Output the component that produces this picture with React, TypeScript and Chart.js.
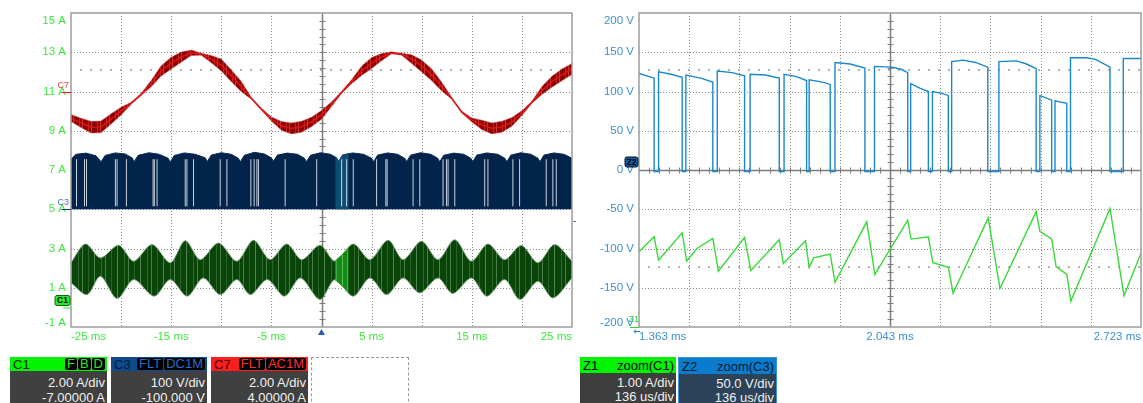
import React, { useEffect, useRef } from "react";
import { Chart, registerables } from "chart.js";

Chart.register(...registerables);

const FONT = '"Liberation Sans", Arial, sans-serif';

// ---------- Main acquisition (left view): 5 ms/div ----------
const mainTimeTicks = [-25, -15, -5, 5, 15, 25];
const mainTimeLabels = ["-25 ms", "-15 ms", "-5 ms", "5 ms", "15 ms", "25 ms"];
const mainAmpTicks = [15, 13, 11, 9, 7, 5, 3, 1, -1];
const mainAmpLabels = ["15 A", "13 A", "11 A", "9 A", "7 A", "5 A", "3 A", "1 A", "-1 A"];

// C7: AC line current, sampled every 1 ms (mean value and ripple half-width, A)
const c7Times = [
  -25, -24, -23, -22, -21, -20, -19, -18, -17, -16, -15, -14, -13, -12, -11, -10, -9, -8, -7, -6,
  -5, -4, -3, -2, -1, 0, 1, 2, 3, 4, 5, 6, 7, 8, 9, 10, 11, 12, 13, 14, 15, 16, 17, 18, 19, 20,
  21, 22, 23, 24, 25,
];
const c7Mean = [
  9.65, 9.4, 9.18, 9.2, 9.6, 10.0, 10.4, 10.85, 11.4, 12.05, 12.45, 12.75, 12.97, 12.9, 12.65, 12.35,
  11.8, 11.25, 10.65, 10.1, 9.6, 9.25, 9.12, 9.2, 9.45, 9.81, 10.35, 10.95, 11.5, 12.05, 12.45, 12.75,
  12.97, 12.9, 12.65, 12.3, 11.85, 11.25, 10.65, 9.95, 9.55, 9.3, 9.12, 9.2, 9.45, 9.9, 10.45, 11.05,
  11.5, 11.85, 12.15,
];
const c7Ripple = [
  0.18, 0.24, 0.3, 0.3, 0.26, 0.2, 0.05, 0.05, 0.16, 0.26, 0.3, 0.26, 0.14, 0.05, 0.18, 0.3, 0.3,
  0.26, 0.05, 0.05, 0.1, 0.22, 0.28, 0.28, 0.24, 0.22, 0.12, 0.05, 0.1, 0.24, 0.28, 0.18, 0.05,
  0.05, 0.22, 0.3, 0.3, 0.22, 0.05, 0.05, 0.1, 0.24, 0.28, 0.28, 0.22, 0.12, 0.05, 0.2, 0.28, 0.3,
  0.28,
];

// C3: switched voltage band, upper envelope [ms, A]; lower edge sits on 5 A
const c3Floor = 5;
const c3Top: [number, number][] = [
  [-25, 7.55], [-24.5, 7.8], [-23.5, 7.86], [-22.5, 7.72], [-22.0, 7.42],
  [-21.6, 7.74], [-20.6, 7.87], [-19.6, 7.82], [-18.9, 7.62], [-18.7, 7.42],
  [-18.3, 7.75], [-17.2, 7.88], [-16.2, 7.8], [-15.3, 7.6], [-15.1, 7.4],
  [-14.7, 7.74], [-13.7, 7.87], [-12.6, 7.8], [-11.6, 7.62], [-11.4, 7.43],
  [-11.0, 7.76], [-10.0, 7.88], [-9.0, 7.8], [-8.3, 7.6], [-8.1, 7.42],
  [-7.7, 7.75], [-6.7, 7.9], [-5.7, 7.82], [-5.0, 7.62], [-4.8, 7.44],
  [-4.4, 7.76], [-3.4, 7.86], [-2.4, 7.8], [-1.7, 7.6], [-1.5, 7.42],
  [-1.1, 7.75], [-0.1, 7.88], [0.9, 7.8], [1.5, 7.62], [1.7, 7.42],
  [2.1, 7.76], [3.1, 7.87], [4.2, 7.8], [5.0, 7.6], [5.2, 7.42],
  [5.6, 7.76], [6.6, 7.87], [7.6, 7.8], [8.3, 7.6], [8.5, 7.43],
  [8.9, 7.76], [9.9, 7.88], [10.9, 7.8], [11.6, 7.6], [11.8, 7.42],
  [12.2, 7.75], [13.2, 7.86], [14.2, 7.8], [14.9, 7.6], [15.1, 7.42],
  [15.5, 7.76], [16.5, 7.87], [17.6, 7.8], [18.3, 7.6], [18.5, 7.42],
  [18.9, 7.76], [19.9, 7.88], [20.9, 7.8], [21.6, 7.6], [21.8, 7.42],
  [22.2, 7.76], [23.2, 7.87], [24.2, 7.8], [25.0, 7.6],
];
// Missing pulses inside the C3 band (ms)
const c3Dropouts = [
  -24.45, -23.65, -23.45, -20.57, -20.4, -19.47, -16.81, -16.68, -16.41, -13.6, -13.43, -12.77,
  -10.11, -9.44, -7.05, -6.72, -6.45, -6.29, -3.63, -0.48, 2.01, 2.51, 3.17, 5.5, 6.42, 6.55, 9.14,
  9.81, 12.13, 12.47, 12.63, 13.3, 16.29, 16.61, 19.1, 19.77, 22.43, 23.09, 23.43,
];
const c3DropoutLow = 5.15;
const c3DropoutHigh = 7.55;

// C1: HF current band, envelopes [ms, A]
const c1Upper: [number, number][] = [
  [-25, 2.27], [-23.56, 3.23], [-22.06, 2.52], [-20.24, 3.16], [-18.74, 2.35], [-16.91, 3.2],
  [-15.09, 2.27], [-13.6, 3.4], [-12.1, 2.43], [-10.28, 3.28], [-8.45, 2.35], [-6.79, 3.42],
  [-5.13, 2.43], [-3.47, 3.23], [-1.97, 2.43], [-0.15, 3.16], [1.35, 2.35], [3.17, 3.23],
  [4.83, 2.43], [6.65, 3.42], [8.15, 2.43], [9.98, 3.37], [11.63, 2.43], [13.3, 3.45],
  [14.96, 2.35], [16.61, 3.23], [18.28, 2.43], [19.94, 3.15], [21.6, 2.27], [23.26, 3.2],
  [25, 2.35],
];
const c1Lower: [number, number][] = [
  [-25, 1.25], [-23.4, 0.65], [-22.06, 1.59], [-20.4, 0.45], [-18.74, 1.42], [-16.7, 0.57],
  [-15.09, 1.42], [-13.4, 0.57], [-11.8, 1.5], [-10.1, 0.65], [-8.45, 1.42], [-7.1, 0.65],
  [-5.4, 1.42], [-3.7, 0.57], [-2.1, 1.5], [-0.15, 0.4], [1.35, 1.42], [3.17, 0.57], [4.83, 1.5],
  [6.5, 0.65], [8.15, 1.5], [9.8, 0.74], [11.63, 1.5], [13.1, 0.71], [14.96, 1.5], [16.5, 0.57],
  [18.28, 1.42], [19.8, 0.4], [21.6, 1.33], [23.1, 0.48], [25, 1.5],
];

// Portion of the record shown in the zoom view (1.363 ms .. 2.723 ms)
const c3ZoomTop: [number, number][] = [[1.363, 7.66], [1.5, 7.62], [1.7, 7.42], [2.1, 7.76], [2.723, 7.83]];
const c1ZoomUpper: [number, number][] = [[1.363, 2.36], [2.0, 2.66], [2.723, 3.01]];
const c1ZoomLower: [number, number][] = [[1.363, 1.41], [2.0, 1.12], [2.723, 0.78]];

const mainLevels = [{ value: 12.1, color: "#b4b4b4" }];
const c7RefLevel = 11;
const c3RefLevel = 5;
const c1RefLevel = 0.35;
const rightEdgeMark = 4.4;

// ---------- Zoom view (right): 136 us/div, 50 V/div ----------
const zoomTimeTicks = [1.363, 2.043, 2.723];
const zoomTimeLabels = ["1.363 ms", "2.043 ms", "2.723 ms"];
const zoomVoltTicks = [200, 150, 100, 50, 0, -50, -100, -150, -200];
const zoomVoltLabels = ["200 V", "150 V", "100 V", "50 V", "0 V", "-50 V", "-100 V", "-150 V", "-200 V"];

// Z2 = zoom(C3): [ms, V]
const z2Trace: [number, number][] = [
  [1.363, 123], [1.404, 117], [1.404, -2], [1.416, -2], [1.416, 125], [1.45, 122], [1.48, 118],
  [1.48, -2], [1.49, -2], [1.49, 121], [1.53, 117], [1.563, 112], [1.563, -2], [1.575, -2],
  [1.575, 126], [1.615, 124], [1.649, 120], [1.649, -2], [1.664, -2], [1.664, 122], [1.705, 121],
  [1.743, 117], [1.743, -2], [1.756, -2], [1.756, 122], [1.79, 119], [1.817, 114], [1.817, -2],
  [1.824, -2], [1.824, 115], [1.86, 112], [1.881, 109], [1.881, -2], [1.894, -2], [1.894, 137],
  [1.935, 135], [1.975, 130], [1.975, -2], [2.001, -2], [2.001, 132], [2.048, 131], [2.075, 128],
  [2.091, 124], [2.091, -2], [2.099, -2], [2.099, 110], [2.125, 104], [2.147, 100], [2.147, -2],
  [2.158, -2], [2.158, 100], [2.18, 98], [2.201, 95], [2.201, -2], [2.21, -2], [2.21, 138],
  [2.241, 140], [2.275, 137], [2.308, 131], [2.308, -2], [2.338, -2], [2.338, 138], [2.386, 139],
  [2.413, 135], [2.439, 129], [2.439, -2], [2.449, -2], [2.449, 95], [2.481, 89], [2.481, -2],
  [2.49, -2], [2.49, 88], [2.522, 85], [2.522, -2], [2.532, -2], [2.532, 143], [2.576, 143],
  [2.6, 141], [2.639, 131], [2.639, -2], [2.675, -2], [2.675, 142], [2.723, 142],
];
// Z1 = zoom(C1), drawn on the same graticule: [ms, V-scale value]
const z1Trace: [number, number][] = [
  [1.363, -104], [1.404, -85], [1.416, -115], [1.48, -80], [1.492, -116], [1.52, -100],
  [1.563, -87], [1.578, -129], [1.649, -86], [1.666, -128], [1.743, -89], [1.754, -119],
  [1.814, -90], [1.824, -124], [1.836, -112], [1.881, -107], [1.894, -143], [1.98, -66],
  [2.002, -133], [2.091, -64], [2.1, -88], [2.147, -85], [2.159, -118], [2.201, -124],
  [2.214, -157], [2.309, -61], [2.341, -151], [2.439, -53], [2.449, -78], [2.481, -88],
  [2.493, -123], [2.522, -133], [2.533, -167], [2.639, -49], [2.677, -160], [2.723, -106],
];
const zoomLevels = [
  { value: 127, color: "#9fb6c8" },
  { value: -124, color: "#b4b4b4" },
];

// ---------- helpers ----------
const pts = (pairs: [number, number][]) => pairs.map(([x, y]) => ({ x, y }));

// Vertical-hair fill texture used for the dense HF bands
function hairPattern(base: string, hairs: [number, string][], width: number) {
  const c = document.createElement("canvas");
  c.width = width;
  c.height = 4;
  const g = c.getContext("2d") as CanvasRenderingContext2D;
  g.fillStyle = base;
  g.fillRect(0, 0, width, 4);
  for (const [x, col] of hairs) {
    g.fillStyle = col;
    g.fillRect(x, 0, 1, 4);
  }
  return g.createPattern(c, "repeat") as CanvasPattern;
}

interface Decor {
  xDivs: number;
  yDivs: number;
  xCenter: number;
  yCenter: number;
  xTicks: number[];
  xLabels: string[];
  yTicks: number[];
  yLabels: string[];
  labelColor: string;
  levels: { value: number; color: string }[];
  extras: (chart: any) => void;
}

function makeDecor(d: Decor) {
  return {
    id: "scopeDecor",
    beforeDatasetsDraw(chart: any) {
      const { ctx, chartArea: a } = chart;
      const xs = chart.scales.x;
      const ys = chart.scales.y;
      const w = a.right - a.left;
      const h = a.bottom - a.top;
      ctx.save();
      ctx.lineWidth = 1;
      ctx.strokeStyle = "#8a8a8a";
      ctx.setLineDash([1, 2]);
      ctx.beginPath();
      for (let i = 1; i < d.xDivs; i++) {
        const x = Math.round(a.left + (w * i) / d.xDivs) + 0.5;
        ctx.moveTo(x, a.top);
        ctx.lineTo(x, a.bottom);
      }
      for (let j = 1; j < d.yDivs; j++) {
        const y = Math.round(a.top + (h * j) / d.yDivs) + 0.5;
        ctx.moveTo(a.left, y);
        ctx.lineTo(a.right, y);
      }
      ctx.stroke();
      ctx.setLineDash([]);
      for (const lv of d.levels) {
        const y = Math.round(ys.getPixelForValue(lv.value));
        ctx.fillStyle = lv.color;
        for (let x = a.left + 9; x < a.right - 2; x += 10) ctx.fillRect(x, y - 1, 2, 2);
      }
      const cx = Math.round(xs.getPixelForValue(d.xCenter)) + 0.5;
      const cy = Math.round(ys.getPixelForValue(d.yCenter)) + 0.5;
      ctx.strokeStyle = "#7c7c7c";
      ctx.lineWidth = 1.5;
      ctx.beginPath();
      ctx.moveTo(cx, a.top);
      ctx.lineTo(cx, a.bottom);
      ctx.moveTo(a.left, cy);
      ctx.lineTo(a.right, cy);
      ctx.stroke();
      ctx.lineWidth = 1;
      ctx.beginPath();
      const sy = h / d.yDivs / 5;
      const sx = w / d.xDivs / 5;
      for (let k = 1; k < d.yDivs * 5; k++) {
        const y = Math.round(a.top + k * sy) + 0.5;
        ctx.moveTo(cx - 3, y);
        ctx.lineTo(cx + 3, y);
      }
      for (let k = 1; k < d.xDivs * 5; k++) {
        const x = Math.round(a.left + k * sx) + 0.5;
        ctx.moveTo(x, cy - 3);
        ctx.lineTo(x, cy + 3);
      }
      ctx.stroke();
      ctx.restore();
    },
    afterDatasetsDraw(chart: any) {
      const { ctx, chartArea: a } = chart;
      ctx.save();
      ctx.strokeStyle = "#9c9c9c";
      ctx.lineWidth = 1.5;
      ctx.strokeRect(a.left, a.top, a.right - a.left, a.bottom - a.top);
      ctx.restore();
    },
    afterDraw(chart: any) {
      const { ctx, chartArea: a } = chart;
      const xs = chart.scales.x;
      const ys = chart.scales.y;
      ctx.save();
      ctx.font = `11.5px ${FONT}`;
      ctx.fillStyle = d.labelColor;
      ctx.textAlign = "right";
      ctx.textBaseline = "middle";
      d.yTicks.forEach((v, i) => {
        const y = Math.min(Math.max(ys.getPixelForValue(v), a.top + 8), a.bottom - 4);
        ctx.fillText(d.yLabels[i], a.left - 5, y);
      });
      const n = d.xTicks.length;
      d.xTicks.forEach((v, i) => {
        ctx.textAlign = i === 0 ? "left" : i === n - 1 ? "right" : "center";
        ctx.fillText(d.xLabels[i], xs.getPixelForValue(v), a.bottom + 10);
      });
      ctx.restore();
      ctx.save();
      d.extras(chart);
      ctx.restore();
    },
  };
}

function roundRect(ctx: CanvasRenderingContext2D, x: number, y: number, w: number, h: number, r: number) {
  ctx.beginPath();
  ctx.moveTo(x + r, y);
  ctx.lineTo(x + w - r, y);
  ctx.quadraticCurveTo(x + w, y, x + w, y + r);
  ctx.lineTo(x + w, y + h - r);
  ctx.quadraticCurveTo(x + w, y + h, x + w - r, y + h);
  ctx.lineTo(x + r, y + h);
  ctx.quadraticCurveTo(x, y + h, x, y + h - r);
  ctx.lineTo(x, y + r);
  ctx.quadraticCurveTo(x, y, x + r, y);
  ctx.closePath();
}

function mainExtras(chart: any) {
  const { ctx, chartArea: a } = chart;
  const xs = chart.scales.x;
  const ys = chart.scales.y;
  ctx.font = `9px ${FONT}`;
  ctx.textAlign = "right";
  ctx.textBaseline = "middle";
  const tags = [
    { name: "C7", level: c7RefLevel, text: "#f04040", line: "#e02020" },
    { name: "C3", level: c3RefLevel, text: "#4a78b0", line: "#1d3d66" },
  ];
  for (const t of tags) {
    const y = Math.round(ys.getPixelForValue(t.level)) + 0.5;
    ctx.fillStyle = t.text;
    ctx.fillText(t.name, a.left - 2, y - 6.5);
    ctx.strokeStyle = t.line;
    ctx.lineWidth = 1;
    ctx.beginPath();
    ctx.moveTo(a.left - 9, y);
    ctx.lineTo(a.left, y);
    ctx.stroke();
  }
  // C1 badge
  const y1 = ys.getPixelForValue(c1RefLevel);
  roundRect(ctx, a.left - 16, y1 - 5, 15, 10, 2);
  ctx.fillStyle = "#2ee82e";
  ctx.fill();
  ctx.strokeStyle = "#0b6b0b";
  ctx.lineWidth = 1;
  ctx.stroke();
  ctx.fillStyle = "#000";
  ctx.textAlign = "center";
  ctx.font = `bold 8.5px ${FONT}`;
  ctx.fillText("C1", a.left - 8.5, y1 + 0.5);
  ctx.strokeStyle = "#2ee82e";
  ctx.beginPath();
  ctx.moveTo(a.left - 8, y1 + 7.5);
  ctx.lineTo(a.left, y1 + 7.5);
  ctx.stroke();
  // trigger position marker
  const tx = xs.getPixelForValue(0);
  ctx.fillStyle = "#1f5fae";
  ctx.beginPath();
  ctx.moveTo(tx, a.bottom + 2);
  ctx.lineTo(tx - 3.5, a.bottom + 8);
  ctx.lineTo(tx + 3.5, a.bottom + 8);
  ctx.closePath();
  ctx.fill();
  // edge mark on the right border
  const ym = Math.round(ys.getPixelForValue(rightEdgeMark)) + 0.5;
  ctx.strokeStyle = "#3a7ac0";
  ctx.beginPath();
  ctx.moveTo(a.right + 1, ym);
  ctx.lineTo(a.right + 4, ym);
  ctx.stroke();
}

function zoomExtras(chart: any) {
  const { ctx, chartArea: a } = chart;
  const ys = chart.scales.y;
  // Z2 badge at the 0 V reference
  const y0 = ys.getPixelForValue(0);
  roundRect(ctx, a.left - 14, y0 - 13, 13, 10, 2);
  ctx.fillStyle = "#0b5c9c";
  ctx.fill();
  ctx.strokeStyle = "#02182e";
  ctx.lineWidth = 1;
  ctx.stroke();
  ctx.fillStyle = "#000";
  ctx.font = `bold 8.5px ${FONT}`;
  ctx.textAlign = "center";
  ctx.textBaseline = "middle";
  ctx.fillText("Z2", a.left - 7.5, y0 - 7.5);
  // Z1 reference marker at the bottom edge
  ctx.fillStyle = "#30d030";
  ctx.font = `9px ${FONT}`;
  ctx.textAlign = "right";
  ctx.fillText("Z1", a.left, a.bottom - 7);
  ctx.strokeStyle = "#30d030";
  ctx.beginPath();
  ctx.moveTo(a.left - 9, a.bottom + 0.5);
  ctx.lineTo(a.left, a.bottom + 0.5);
  ctx.stroke();
  ctx.strokeStyle = "#2a7ac8";
  ctx.beginPath();
  ctx.moveTo(a.left - 5, a.bottom + 4.5);
  ctx.lineTo(a.left + 1, a.bottom + 4.5);
  ctx.moveTo(a.left - 5, a.bottom + 4.5);
  ctx.lineTo(a.left - 3, a.bottom + 2.5);
  ctx.moveTo(a.left - 5, a.bottom + 4.5);
  ctx.lineTo(a.left - 3, a.bottom + 6.5);
  ctx.stroke();
}

function baseOptions(xMin: number, xMax: number, yMin: number, yMax: number, padding: any) {
  return {
    animation: false,
    responsive: false,
    devicePixelRatio: 1,
    events: [],
    layout: { padding },
    plugins: { legend: { display: false }, tooltip: { enabled: false } },
    elements: { point: { radius: 0 }, line: { tension: 0 } },
    scales: {
      x: { type: "linear", min: xMin, max: xMax, display: false },
      y: { type: "linear", min: yMin, max: yMax, display: false },
    },
  };
}

function mainConfig(): any {
  const c7Hi = c7Times.map((t, i) => ({ x: t, y: c7Mean[i] + c7Ripple[i] }));
  const c7Lo = c7Times.map((t, i) => ({ x: t, y: c7Mean[i] - c7Ripple[i] }));
  const c7Mid = c7Times.map((t, i) => ({ x: t, y: c7Mean[i] }));
  const gaps: { x: number; y: number | null }[] = [];
  for (const t of c3Dropouts) {
    gaps.push({ x: t, y: c3DropoutLow }, { x: t, y: c3DropoutHigh }, { x: t, y: null });
  }
  const redHair = hairPattern(
    "#9a0000",
    [[1, "rgba(235,130,130,0.45)"], [4, "#700000"], [7, "rgba(235,130,130,0.3)"]],
    9
  );
  const greenHair = hairPattern(
    "#094509",
    [
      [2, "rgba(140,180,140,0.55)"], [9, "rgba(120,165,120,0.35)"], [13, "rgba(140,180,140,0.5)"],
      [19, "rgba(120,165,120,0.3)"],
    ],
    23
  );
  const greenZoomHair = hairPattern(
    "#138a13",
    [[1, "rgba(160,220,160,0.55)"], [6, "rgba(140,200,140,0.45)"]],
    11
  );
  return {
    type: "line",
    data: {
      datasets: [
        { label: "C7", data: c7Mid, borderColor: "#e41616", borderWidth: 1.3, fill: false, order: 0 },
        { label: "C7 max", data: c7Hi, borderColor: "rgba(200,80,80,0.5)", borderWidth: 1, fill: false, order: 1 },
        { label: "C7 min", data: c7Lo, borderColor: "rgba(200,80,80,0.5)", borderWidth: 1, fill: "-1", backgroundColor: redHair, order: 1 },
        { label: "C3", data: pts(c3Top), borderColor: "#0a2d55", borderWidth: 1, fill: { value: c3Floor }, backgroundColor: "#03244a", order: 6 },
        { label: "C3 zoom", data: pts(c3ZoomTop), borderColor: "#0d4d72", borderWidth: 1, fill: { value: c3Floor }, backgroundColor: "#0d4d72", order: 5 },
        { label: "C3 dropouts", data: gaps, borderColor: "rgba(236,240,246,0.85)", borderWidth: 1, fill: false, spanGaps: false, order: 4 },
        { label: "C1 max", data: pts(c1Upper), borderColor: "rgba(110,155,110,0.85)", borderWidth: 1, fill: false, tension: 0.3, order: 8 },
        { label: "C1 min", data: pts(c1Lower), borderColor: "rgba(110,155,110,0.85)", borderWidth: 1, fill: "-1", tension: 0.3, backgroundColor: greenHair, order: 8 },
        { label: "C1 zoom max", data: pts(c1ZoomUpper), borderColor: "#2a9a2a", borderWidth: 1, fill: false, order: 7 },
        { label: "C1 zoom min", data: pts(c1ZoomLower), borderColor: "#2a9a2a", borderWidth: 1, fill: "-1", backgroundColor: greenZoomHair, order: 7 },
      ],
    },
    options: baseOptions(-25, 25, -1, 15, { left: 71, right: 8, top: 13, bottom: 23 }),
    plugins: [
      makeDecor({
        xDivs: 10,
        yDivs: 8,
        xCenter: 0,
        yCenter: 7,
        xTicks: mainTimeTicks,
        xLabels: mainTimeLabels,
        yTicks: mainAmpTicks,
        yLabels: mainAmpLabels,
        labelColor: "#3fe63f",
        levels: mainLevels,
        extras: mainExtras,
      }),
    ],
  };
}

function zoomConfig(): any {
  return {
    type: "line",
    data: {
      datasets: [
        { label: "Z1", data: pts(z1Trace), borderColor: "#3ad83a", borderWidth: 1.4, fill: false, order: 0 },
        { label: "Z2", data: pts(z2Trace), borderColor: "#1b87cc", borderWidth: 1.4, fill: false, order: 1 },
      ],
    },
    options: baseOptions(1.363, 2.723, -200, 200, { left: 59, right: 2, top: 13, bottom: 23 }),
    plugins: [
      makeDecor({
        xDivs: 10,
        yDivs: 8,
        xCenter: 2.043,
        yCenter: 0,
        xTicks: zoomTimeTicks,
        xLabels: zoomTimeLabels,
        yTicks: zoomVoltTicks,
        yLabels: zoomVoltLabels,
        labelColor: "#3c8fd2",
        levels: zoomLevels,
        extras: zoomExtras,
      }),
    ],
  };
}

function ScopeCanvas(props: { left: number; width: number; height: number; build: () => any }) {
  const ref = useRef<HTMLCanvasElement>(null);
  useEffect(() => {
    const chart = new Chart(ref.current as HTMLCanvasElement, props.build());
    return () => chart.destroy();
  }, []);
  return (
    <canvas
      ref={ref}
      width={props.width}
      height={props.height}
      style={{ position: "absolute", left: props.left, top: 0, width: props.width, height: props.height }}
    />
  );
}

// ---------- channel / zoom descriptor boxes ----------
function Tag(props: { text: string; color: string }) {
  return (
    <span
      style={{
        background: "#000",
        color: props.color,
        borderRadius: 2,
        padding: "0 2px",
        marginLeft: 1,
        lineHeight: "12px",
        height: 12,
        display: "inline-block",
      }}
    >
      {props.text}
    </span>
  );
}

function InfoBox(props: {
  left: number;
  width: number;
  headHeight: number;
  headBg: string;
  bodyBg: string;
  title: string;
  titleColor: string;
  right: React.ReactNode;
  lines: string[];
  lineHeight: number;
  padTop: number;
  border?: string;
}) {
  const top = 357;
  return (
    <div
      style={{
        position: "absolute",
        left: props.left,
        top,
        width: props.width,
        height: 403 - top,
        overflow: "hidden",
        font: `13px ${FONT}`,
        boxSizing: "border-box",
        borderLeft: props.border,
        borderRight: props.border,
        borderTop: props.border,
      }}
    >
      <div
        style={{
          height: props.headHeight,
          background: props.headBg,
          display: "flex",
          alignItems: "center",
          justifyContent: "space-between",
          padding: "0 2px 0 3px",
          whiteSpace: "nowrap",
        }}
      >
        <span style={{ color: props.titleColor }}>{props.title}</span>
        <span style={{ color: props.titleColor, display: "flex" }}>{props.right}</span>
      </div>
      <div
        style={{
          background: props.bodyBg,
          color: "#f0f0f0",
          textAlign: "right",
          paddingRight: 2,
          paddingTop: props.padTop,
          lineHeight: `${props.lineHeight}px`,
          height: 60,
          whiteSpace: "nowrap",
        }}
      >
        {props.lines.map((l) => (
          <div key={l}>{l}</div>
        ))}
      </div>
    </div>
  );
}

export default function App() {
  return (
    <div
      style={{
        position: "fixed",
        left: 0,
        top: 0,
        width: 1143,
        height: 403,
        background: "#fff",
        overflow: "hidden",
      }}
    >
      <ScopeCanvas left={0} width={580} height={350} build={mainConfig} />
      <ScopeCanvas left={580} width={563} height={350} build={zoomConfig} />

      <InfoBox
        left={10}
        width={97}
        headHeight={14}
        headBg="#00f400"
        bodyBg="#404040"
        title="C1"
        titleColor="#062006"
        right={
          <>
            <Tag text="F" color="#22ee22" />
            <Tag text="B" color="#22ee22" />
            <Tag text="D" color="#22ee22" />
          </>
        }
        lines={["2.00 A/div", "-7.00000 A"]}
        lineHeight={15.4}
        padTop={3.5}
      />
      <InfoBox
        left={111}
        width={96}
        headHeight={14}
        headBg="#0e4a8c"
        bodyBg="#404040"
        title="C3"
        titleColor="#0a1a33"
        right={
          <>
            <Tag text="FLT" color="#2a6ccc" />
            <Tag text="DC1M" color="#2a6ccc" />
          </>
        }
        lines={["100 V/div", "-100.000 V"]}
        lineHeight={15.4}
        padTop={3.5}
      />
      <InfoBox
        left={211}
        width={97}
        headHeight={14}
        headBg="#ff1e1e"
        bodyBg="#404040"
        title="C7"
        titleColor="#3a0000"
        right={
          <>
            <Tag text="FLT" color="#ff3030" />
            <Tag text="AC1M" color="#ff3030" />
          </>
        }
        lines={["2.00 A/div", "4.00000 A"]}
        lineHeight={15.4}
        padTop={3.5}
      />
      <div
        style={{
          position: "absolute",
          left: 311,
          top: 357,
          width: 98,
          height: 60,
          border: "1px dashed #9a9a9a",
          boxSizing: "border-box",
        }}
      />
      <InfoBox
        left={580}
        width={96}
        headHeight={16}
        headBg="#00f400"
        bodyBg="#3e3e3e"
        title="Z1"
        titleColor="#000"
        right={<span>zoom(C1)</span>}
        lines={["1.00 A/div", "136 us/div"]}
        lineHeight={14.4}
        padTop={2.6}
      />
      <InfoBox
        left={678}
        width={99}
        headHeight={16}
        headBg="#0b7ccc"
        bodyBg="#2c4259"
        title="Z2"
        titleColor="#06182a"
        right={<span>zoom(C3)</span>}
        lines={["50.0 V/div", "136 us/div"]}
        lineHeight={14.4}
        padTop={2.6}
        border="1px solid #3d95d8"
      />
    </div>
  );
}
